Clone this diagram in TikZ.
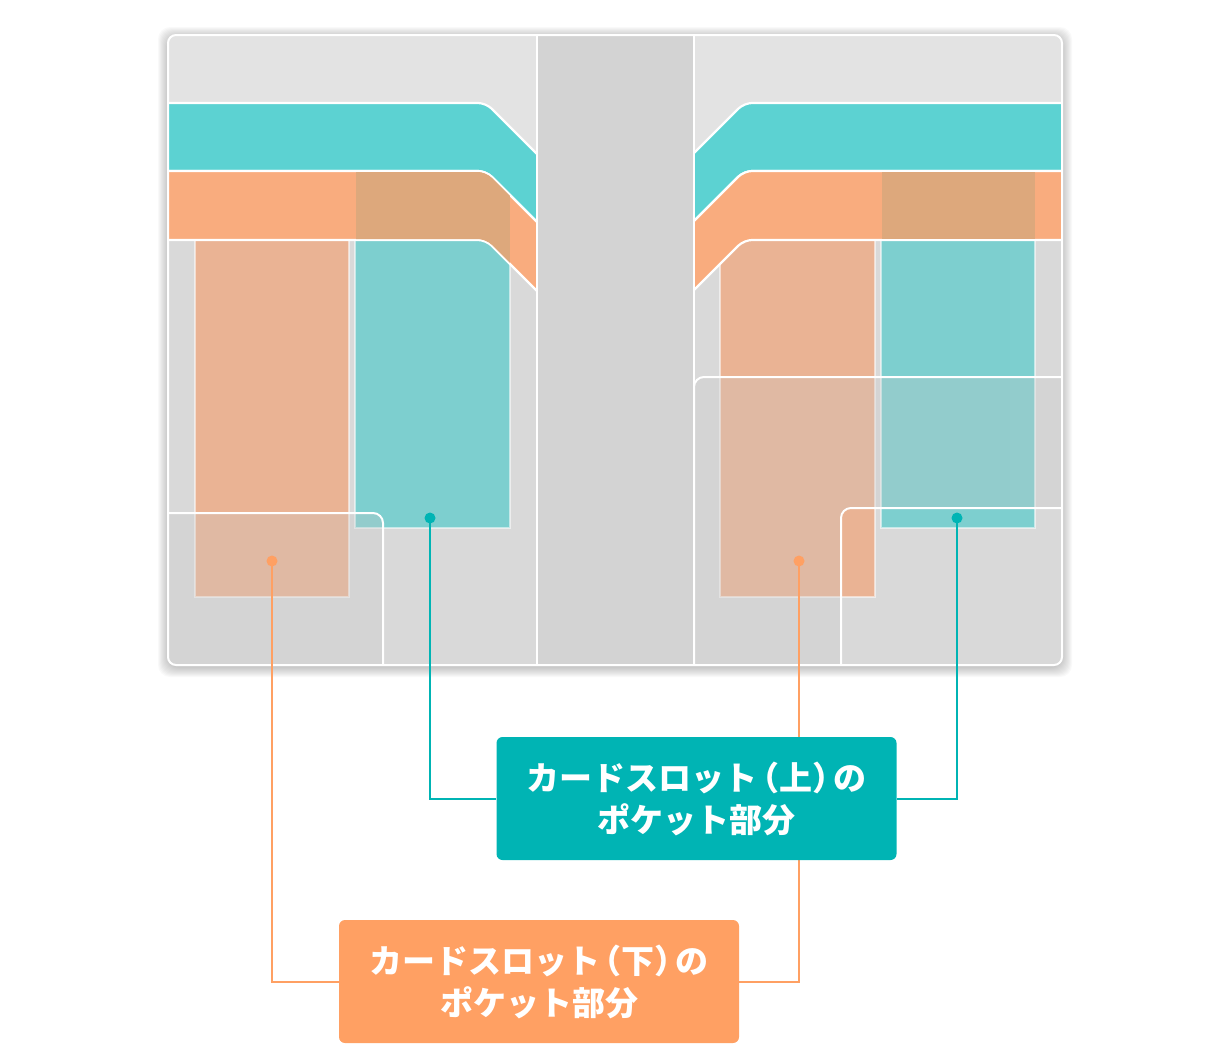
\documentclass[tikz,border=0pt]{standalone}
\usepackage{fontspec}
\newfontfamily\jpfont{Noto Sans CJK JP}
\usepackage{tikz}
\usetikzlibrary{positioning}
\definecolor{walbg}{HTML}{E3E3E3}
\definecolor{wallow}{HTML}{D9D9D9}
\definecolor{walspine}{HTML}{D3D3D3}
\definecolor{walteal}{HTML}{5CD2D2}
\definecolor{walorange}{HTML}{F9AC7E}
\definecolor{walmix}{HTML}{DDA87C}
\definecolor{cardorange}{HTML}{EAB394}
\definecolor{cardteal}{HTML}{7DCFCF}
\definecolor{pocketgray}{HTML}{C8C8C8}
\definecolor{markteal}{HTML}{00B4B4}
\definecolor{markorange}{HTML}{FFA063}
\newcommand\walparen[1]{\kern-0.35em（#1）\kern-0.35em}
\tikzset{
  walband/.style   = {draw=white, line width=1.1pt, rounded corners=4pt},
  walcard/.style   = {draw=white, draw opacity=0.55, line width=0.8pt},
  walpocket/.style = {fill=pocketgray, fill opacity=0.29, draw=white, line width=1pt,
                      rounded corners=5pt},
  walseam/.style   = {draw=white, line width=1pt},
  waldot/.style    = {circle, inner sep=0pt, minimum size=5.5pt},
  walleader/.style = {line width=1pt},
  walbox/.style    = {rectangle, rounded corners=3pt, text=white, align=center,
                      font=\jpfont\bfseries\fontsize{16.5}{21}\selectfont,
                      minimum width=200pt, minimum height=61.5pt, inner sep=0pt},
}

\begin{document}
\begin{tikzpicture}[x=0.5pt, y=-0.5pt]
  \useasboundingbox (0,0) rectangle (1230,1050);

  \foreach \s in {1,...,10}
    \fill[black, opacity=0.022, rounded corners=6pt] (168-\s,35-\s+2) rectangle (1062+\s,665+\s+2);
  \fill[walbg, rounded corners=4pt] (168,35) rectangle (1062,665);

  \begin{scope}
    \clip[rounded corners=4pt] (168,35) rectangle (1062,665);
    \fill[wallow] (160,240) rectangle (1070,680);

    % card pockets
    \fill[cardorange, walcard] (195,172) rectangle (349,597);
    \fill[cardteal, walcard]   (355,172) rectangle (510,528);
    \fill[cardorange, walcard] (720,172) rectangle (875,597);
    \fill[cardteal, walcard]   (881,172) rectangle (1035,528);

    \path[walpocket] (150,513) -| (383,680) -- (150,680) -- cycle;
    \path[walpocket] (694,680) -- (694,377) -- (1075,377) -- (1075,508) -- (841,508) -- (841,680) -- cycle;

    % bands
    \fill[walteal, walband]   (160,103) -- (486,103) -- (560,177) -- (560,245) -- (486,171) -- (160,171) -- cycle;
    \fill[walorange, walband] (160,171) -- (486,171) -- (560,245) -- (560,314) -- (486,240) -- (160,240) -- cycle;
    \fill[walteal, walband]   (1070,103) -- (744,103) -- (670,177) -- (670,245) -- (744,171) -- (1070,171) -- cycle;
    \fill[walorange, walband] (1070,171) -- (744,171) -- (670,245) -- (670,314) -- (744,240) -- (1070,240) -- cycle;
    \begin{scope}
      \clip[rounded corners=4pt] (160,172) -- (486,172) -- (560,246) -- (560,313) -- (486,239) -- (160,239) -- cycle;
      \fill[walmix] (355.5,160) rectangle (509.5,300);
    \end{scope}
    \fill[walmix] (881.5,172) rectangle (1034.5,239);

    \fill[walspine] (537,30) rectangle (694,670);
    \draw[walseam] (537,30) -- (537,670);
    \draw[walseam] (694,30) -- (694,670);
  \end{scope}
  \draw[white, line width=1pt, rounded corners=4pt] (168,35) rectangle (1062,665);

  \node[waldot, fill=markorange] (dotLowL) at (272,561) {};
  \node[waldot, fill=markorange] (dotLowR) at (799,561) {};
  \node[waldot, fill=markteal]   (dotUpL)  at (430,518) {};
  \node[waldot, fill=markteal]   (dotUpR)  at (957,518) {};

  \node[walbox, fill=markorange] (boxLow) at (539,981.5) {カードスロット\walparen{下}の\\ポケット部分};
  \draw[walleader, markorange] (dotLowL.center) |- (boxLow.west);
  \draw[walleader, markorange] (dotLowR.center) |- (boxLow.east);

  \node[walbox, fill=markteal] (boxUp) at (696.5,798.5) {カードスロット\walparen{上}の\\ポケット部分};
  \draw[walleader, markteal] (dotUpL.center) |- (boxUp.west);
  \draw[walleader, markteal] (dotUpR.center) |- (boxUp.east);
\end{tikzpicture}
\end{document}
